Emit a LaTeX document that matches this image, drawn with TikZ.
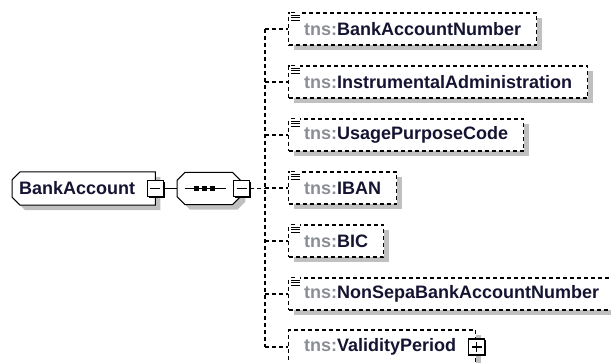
\documentclass[tikz,border=0pt]{standalone}
\usepackage{fontspec}
\setmainfont{Liberation Sans}
\usetikzlibrary{shadows,calc,backgrounds}

\definecolor{nsgray}{RGB}{140,142,150}
\definecolor{namecol}{RGB}{20,20,50}
\definecolor{shadowgray}{RGB}{192,192,192}
\newcommand{\tns}[1]{\textcolor{nsgray}{tns:}#1}

\begin{document}
\begin{tikzpicture}[
        x=1pt, y=-1pt,
        font=\fontsize{18}{20}\selectfont\bfseries\color{namecol},
        shade/.style={general shadow={shadow xshift=5pt, shadow yshift=-5pt, fill=shadowgray}},
        outline/.style={draw, fill=white, line width=1pt, shade},
        root/.style={anchor=west, minimum height=33pt, inner xsep=7pt, inner ysep=0pt, text width=129pt},
        seqbox/.style={anchor=west, minimum width=63pt, minimum height=32pt, inner sep=0pt},
        elem/.style={draw, dash pattern=on 4pt off 3pt, line width=1.3pt, fill=white, shade,
            anchor=west, minimum height=32pt, inner xsep=15.5pt, inner ysep=0pt},
        pmbox/.style={draw, fill=white, line width=1.5pt, minimum size=16pt, inner sep=0pt,
            general shadow={shadow xshift=1.3pt, shadow yshift=-1.3pt, fill=black}},
        minus/.style={pmbox, path picture={\draw[line width=1.1pt]
            ([xshift=3pt]path picture bounding box.west) -- ([xshift=-3pt]path picture bounding box.east);}},
        plus/.style={pmbox, path picture={\draw[line width=1.1pt]
            ([xshift=3pt]path picture bounding box.west) -- ([xshift=-3pt]path picture bounding box.east)
            ([yshift=-3pt]path picture bounding box.north) -- ([yshift=3pt]path picture bounding box.south);}},
        conn/.style={draw, line width=1.2pt, dash pattern=on 4pt off 3pt},
        icon/.style={line width=1pt, black}
    ]
 \useasboundingbox (0,0) rectangle (611,363);

 % root element and its sequence
 \node[root] (bankaccount) at (12,188.5) {BankAccount};
 \node[seqbox] (seq) at (177,188.5) {};
 \begin{scope}[on background layer]
   \path[outline] ($(bankaccount.north west)+(8,0)$) -- (bankaccount.north east)
     -- (bankaccount.south east) -- ($(bankaccount.south west)+(8,0)$)
     -- ($(bankaccount.south west)+(0,-8)$) -- ($(bankaccount.north west)+(0,8)$) -- cycle;
   \path[outline] ($(seq.north west)+(8,0)$) -- ($(seq.north east)+(-8,0)$)
     -- ($(seq.north east)+(0,8)$) -- ($(seq.south east)+(0,-8)$)
     -- ($(seq.south east)+(-8,0)$) -- ($(seq.south west)+(8,0)$)
     -- ($(seq.south west)+(0,-8)$) -- ($(seq.north west)+(0,8)$) -- cycle;
 \end{scope}
 \node[minus] (rootminus) at (bankaccount.east) {};
 \node[minus] (seqminus) at (241.5,188.5) {};
 \draw[line width=1pt] (rootminus) -- (seq);
 \draw[line width=1pt] ($(seq.center)+(-24,0)$) -- ($(seq.center)+(17,0)$);
 \foreach \dx in {-12,-4,4}
   \fill ($(seq.center)+(\dx,0)$) +(-2.5,-2.5) rectangle +(2.5,2.5);

 % children
 \node[elem] (accnumber) at (288,29)  {\tns{BankAccountNumber}};
 \node[elem] (instradmin) at (288,82) {\tns{InstrumentalAdministration}};
 \node[elem] (usagecode) at (288,135) {\tns{UsagePurposeCode}};
 \node[elem] (iban)      at (288,188) {\tns{IBAN}};
 \node[elem] (bic)       at (288,241) {\tns{BIC}};
 \node[elem] (nonsepa)   at (288,294) {\tns{NonSepaBankAccountNumber}};
 \node[elem, text width=156pt, minimum height=34pt] (validity) at (288,347) {\tns{ValidityPeriod}};
 \node[plus] (validplus) at (476.5,347) {};

 % simple type icons
 \foreach \n in {accnumber,instradmin,usagecode,iban,bic,nonsepa} {
   \fill[white] ($(\n.north west)+(2,-1)$) rectangle ($(\n.north west)+(12,9)$);
   \draw[icon] ($(\n.north west)+(3,0.5)$) -- ++(4,0);
   \foreach \dy in {3,5.5,8}
     \draw[icon] ($(\n.north west)+(3,\dy)$) -- ++(9,0);
 }

 % connectors
 \coordinate (trunk) at (265,188.5);
 \draw[conn] (seqminus.east) -- (trunk);
 \draw[conn] (trunk |- accnumber.west) -- (trunk |- validity.west);
 \foreach \n in {accnumber,instradmin,usagecode,iban,bic,nonsepa,validity}
   \draw[conn] (trunk |- \n.west) -- (\n.west);
\end{tikzpicture}
\end{document}
